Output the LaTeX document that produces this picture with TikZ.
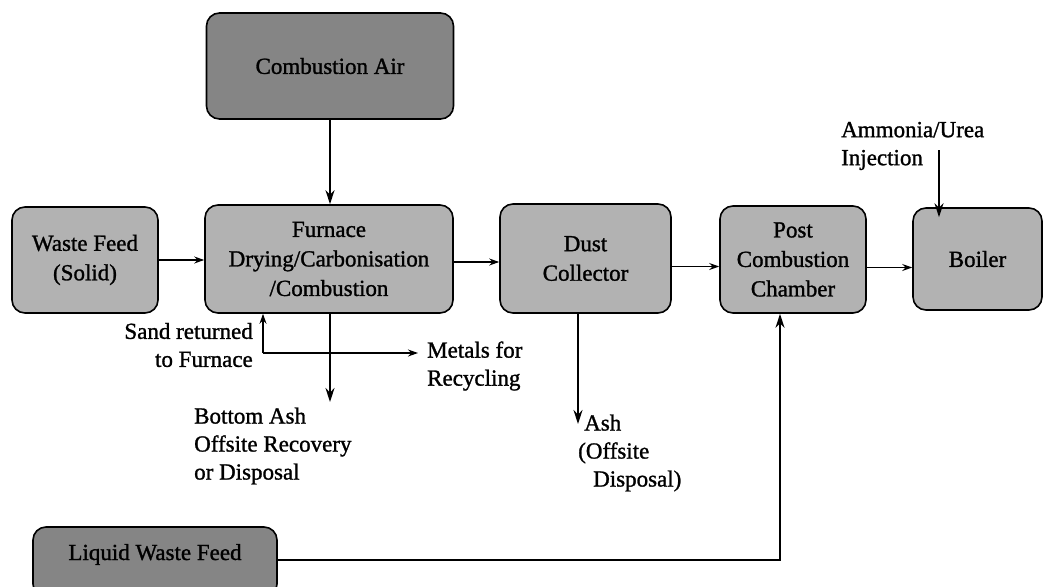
\documentclass[tikz,border=0pt]{standalone}
\usepackage{fontspec}
\setmainfont{Liberation Serif}
\newfontfamily\tms{Liberation Serif}[FakeBold=1.2]
\usetikzlibrary{arrows.meta}
\begin{document}
\begin{tikzpicture}[x=1pt,y=-1pt,
  box/.style={draw=black, line width=1.6pt, rounded corners=13pt, fill=black!30,
    align=center, inner sep=0pt, font=\tms\fontsize{23}{29.5}\selectfont},
  darkbox/.style={box, fill=black!48},
  lbl/.style={inner sep=0pt, font=\tms\fontsize{23}{28}\selectfont},
  flow/.style={line width=1.3pt, -{Stealth[length=10pt,width=7pt]}},
  big/.style={line width=1.6pt, -{Stealth[length=14pt,width=9pt]}}]
\useasboundingbox (0,0) rectangle (1048,586);
\fill[white] (0,0) rectangle (1048,586);

% boxes
\node[darkbox, minimum width=247pt, minimum height=106pt] (cair) at (330,66) {Combustion Air};
\node[box, minimum width=146pt, minimum height=106pt] (waste) at (85,260) {Waste Feed\\(Solid)};
\node[box, minimum width=248pt, minimum height=108pt] (furnace) at (329,259) {Furnace\\Drying/Carbonisation\\/Combustion};
\node[box, minimum width=171pt, minimum height=109pt] (dust) at (585.5,258.5) {Dust\\Collector};
\node[box, minimum width=146pt, minimum height=107pt] (post) at (793,259.5) {Post\\Combustion\\Chamber};
\node[box, minimum width=129pt, minimum height=102pt] (boiler) at (977.5,259) {Boiler};
\node[darkbox, minimum width=244pt, minimum height=70pt, text height=17pt, text depth=21pt] (liquid) at (155,562) {Liquid Waste Feed};

% labels
\node[lbl, anchor=east, align=right] (sand) at (253,345) {Sand returned\\to Furnace};
\node[lbl, anchor=west, align=left] (metals) at (427,366) {Metals for\\Recycling};
\node[lbl, anchor=west, align=left] (bottom) at (194,446) {Bottom Ash\\Offsite Recovery\\or Disposal};
\node[lbl, anchor=west, align=left] (ash) at (578,453) {\hspace*{6pt}Ash\\(Offsite\\\hspace*{15pt}Disposal)};
\node[lbl, anchor=west, align=left] (amm) at (841,146) {Ammonia/Urea\\Injection};

% coordinates for free ends
\coordinate (sandc) at (263,353);
\coordinate (metalsend) at (418,353);
\coordinate (bottomend) at (330,402);
\coordinate (ashend) at (578,424);
\coordinate (ammtop) at (939,150);

% main flow
\draw[flow] (waste.east) -- (waste.east -| furnace.west);
\draw[flow] ([yshift=-3pt]furnace.east) -- ([yshift=-3pt]furnace.east -| dust.west);
\draw[flow] ([yshift=-8pt]dust.east) -- ([yshift=-8pt]dust.east -| post.west);
\draw[flow] ([yshift=-8pt]post.east) -- ([yshift=-8pt]post.east -| boiler.west);

% combustion air
\draw[big] (cair.south) -- (cair.south |- furnace.north);
% bottom ash
\draw[big] (furnace.south -| bottomend) -- (bottomend);
% sand / metals
\draw[flow] (sandc) -- (furnace.south -| sandc);
\draw[flow] (sandc) -- (metalsend);
% dust collector ash
\draw[big] (dust.south -| ashend) -- (ashend);
% ammonia
\draw[big] (ammtop) -- ([yshift=-10pt]boiler.north -| ammtop);
% liquid waste
\draw[big] ([yshift=2pt]liquid.east) -| ([xshift=-13pt]post.south);
\end{tikzpicture}
\end{document}
